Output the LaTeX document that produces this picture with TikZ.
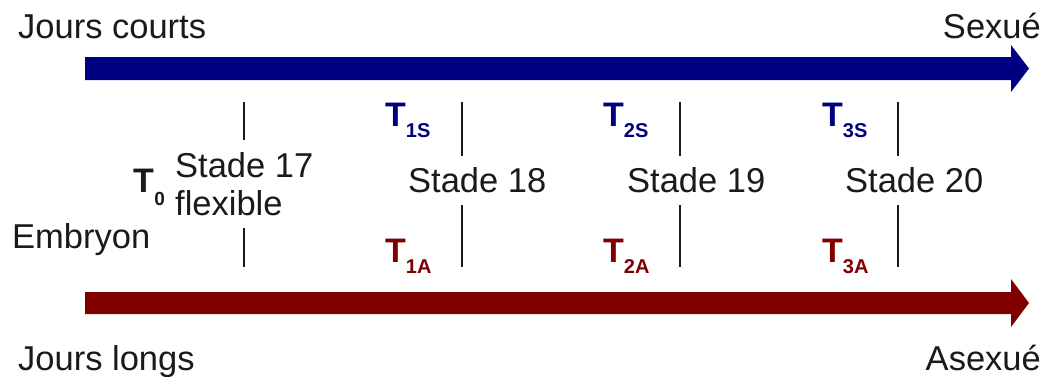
\documentclass[tikz,border=0pt]{standalone}
\usepackage{fontspec}
\setmainfont{Liberation Sans}
\definecolor{navyc}{RGB}{0,0,128}
\definecolor{maroonc}{RGB}{128,0,0}
\definecolor{txt}{RGB}{26,26,26}
\begin{document}
\begin{tikzpicture}[x=1pt,y=-1pt,
  lbl/.style={inner sep=0pt,anchor=base west,text=txt,font=\fontsize{34.5}{40}\selectfont},
  lblr/.style={lbl,anchor=base east},
  tlbl/.style={inner sep=0pt,anchor=base west,font=\fontsize{34}{36}\selectfont\bfseries},
  tick/.style={line width=2pt,draw=txt}]
\useasboundingbox (0,0) rectangle (1049,376);
% arrows
\fill[navyc] (85,57) -- (1011,57) -- (1011,45) -- (1029,68.5) -- (1011,92) -- (1011,80) -- (85,80) -- cycle;
\fill[maroonc] (85,292) -- (1011,292) -- (1011,279) -- (1029,303) -- (1011,327) -- (1011,314) -- (85,314) -- cycle;
% corner labels
\node[lbl] (jc) at (18,38) {Jours courts};
\node[lblr] (sx) at (1041,38) {Sexué};
\node[lbl] (jl) at (18,370) {Jours longs};
\node[lblr] (asx) at (1041,370) {Asexué};
\node[lbl] (emb) at (12,248) {Embryon};
% stages
\node[lbl] (s17) at (175,177) {Stade 17};
\node[lbl] (flex) at (175,215) {flexible};
\node[lbl] (s18) at (408,192) {Stade 18};
\node[lbl] (s19) at (627,192) {Stade 19};
\node[lbl] (s20) at (845,192) {Stade 20};
% T labels
\newcommand{\tsub}[1]{\raisebox{-11pt}{\fontsize{20}{20}\selectfont\bfseries #1}}
\node[tlbl,text=txt] (t0) at (133,192) {T\kern0.5pt\raisebox{-13pt}{\fontsize{19}{19}\selectfont\bfseries 0}};
\node[tlbl,text=navyc] (t1s) at (385,126) {T\tsub{1S}};
\node[tlbl,text=maroonc] (t1a) at (385,262) {T\tsub{1A}};
\node[tlbl,text=navyc] (t2s) at (603,126) {T\tsub{2S}};
\node[tlbl,text=maroonc] (t2a) at (603,262) {T\tsub{2A}};
\node[tlbl,text=navyc] (t3s) at (822,126) {T\tsub{3S}};
\node[tlbl,text=maroonc] (t3a) at (822,262) {T\tsub{3A}};
% ticks
\draw[tick] (244,102) -- (244,140);
\draw[tick] (244,228) -- (244,267);
\foreach \x in {462,680,898}{
  \draw[tick] (\x,102) -- (\x,156);
  \draw[tick] (\x,205) -- (\x,267);
}
\end{tikzpicture}
\end{document}
